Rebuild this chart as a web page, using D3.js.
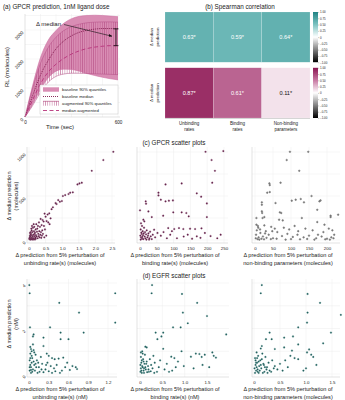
<!DOCTYPE html>
<html>
<head>
<meta charset="utf-8">
<script src="https://cdn.jsdelivr.net/npm/d3@7"></script>
<style>
  body { margin: 0; background: #fff; }
  svg { font-family: "Liberation Sans", Arial, sans-serif; }
</style>
</head>
<body>
<svg width="345" height="400"></svg>
<script>
// --- (a) GPCR time course, molecules of RL ---
const timeSec = [0, 50, 100, 150, 200, 250, 300, 350, 400, 450, 500, 550, 600]
const baselineLow = [0, 450, 950, 1350, 1580, 1650, 1640, 1580, 1500, 1430, 1370, 1320, 1280]
const baselineHigh = [0, 1100, 2050, 2650, 2980, 3230, 3390, 3470, 3500, 3510, 3500, 3480, 3460]
const baselineMedian = [0, 750, 1450, 1950, 2350, 2620, 2800, 2920, 2990, 3030, 3050, 3050, 3040]
const augmentedLow = [0, 400, 850, 1200, 1400, 1480, 1510, 1510, 1500, 1490, 1480, 1470, 1460]
const augmentedHigh = [0, 1000, 1850, 2400, 2750, 2980, 3120, 3200, 3250, 3270, 3280, 3280, 3270]
const augmentedMedian = [0, 600, 1150, 1550, 1820, 2020, 2170, 2280, 2360, 2410, 2440, 2460, 2460]
const timeTicks = [0, 600]
const rlTicks = [0, 1000, 2000, 3000]
const legendLabels = ['baseline 90% quantiles', 'baseline median', 'augmented 90% quantiles', 'median augmented']

// --- (b) Spearman correlation ---
const heatColumns = ['Unbinding rates', 'Binding rates', 'Non-binding parameters']
const gpcrRho = [0.63, 0.59, 0.64]
const egfrRho = [0.87, 0.61, 0.11]
const colorbarTicks = [1, 0.75, 0.5, 0.25, 0, -0.25, -0.5, -0.75, -1]

// --- (c) GPCR scatter: [delta from 5% perturbation, delta median] ---
const gpcrUnbinding = [[2.54,1003],[2.24,909],[1.89,787],[1.59,651],[1.52,643],[1.46,632],[1.32,542],[1.24,538],[1.19,523],[1.09,511],[1.02,500],[0.99,443],[0.93,435],[0.88,454],[0.83,409],[0.80,420],[0.72,372],[0.68,350],[0.61,303],[0.65,246],[0.56,290],[0.50,265],[0.47,300],[0.41,227],[0.44,210],[0.38,170],[0.53,215],[0.58,200],[0.62,180],[0.35,240],[0.30,200],[0.33,150],[0.27,160],[0.25,130],[0.22,180],[0.45,160],[0.48,120],[0.40,110],[0.36,90],[0.31,100],[0.28,70],[0.24,95],[0.20,120],[0.18,85],[0.15,100],[0.12,140],[0.10,90],[0.08,110],[0.06,70],[0.05,60],[0.04,40],[0.03,80],[0.02,30],[0.01,15],[0.07,25],[0.09,50],[0.11,35],[0.13,60],[0.14,20],[0.16,45],[0.17,70],[0.19,30],[0.21,55],[0.23,40],[0.26,20],[0.29,45],[0.32,30],[0.34,60],[0.37,25],[0.39,50],[0.42,70],[0.46,30],[0.52,50],[0.02,10],[0.04,5],[0.06,20],[0.08,8],[0.10,12],[0.12,5],[0.15,10],[0.18,6],[0.20,15],[0.03,50],[0.05,90],[0.07,130],[0.09,160],[0.14,180],[0.16,150]]
const gpcrBinding = [[195,1003],[248,1011],[213,909],[223,787],[215,651],[76,632],[124,643],[55,538],[169,530],[182,492],[199,416],[55,507],[62,458],[76,439],[86,447],[98,450],[17,439],[18,413],[0,337],[25,325],[35,261],[69,276],[99,314],[124,314],[138,307],[145,269],[199,261],[10,231],[13,212],[84,136],[102,125],[116,136],[129,125],[149,129],[164,125],[183,133],[193,80],[169,42],[142,61],[42,117],[52,80],[62,49],[32,42],[3,190],[6,160],[2,120],[8,100],[12,140],[15,90],[20,110],[5,70],[9,55],[14,40],[18,65],[22,30],[25,75],[28,20],[3,30],[6,15],[10,10],[1,50],[4,85],[16,20],[24,50],[30,95],[38,60],[45,30],[70,90],[90,60],[110,20],[130,40],[155,15],[180,25],[210,45],[230,20],[240,60],[2,5],[7,35],[11,75],[19,5],[27,5],[35,10],[80,20],[95,100]]
const gpcrNonBinding = [[97,1003],[148,1003],[88,909],[123,787],[40,643],[41,624],[71,651],[34,538],[41,545],[157,500],[102,447],[113,458],[127,466],[136,428],[19,428],[19,401],[57,420],[179,439],[182,450],[19,326],[20,307],[69,314],[73,307],[173,344],[210,276],[210,261],[231,288],[4,250],[21,250],[26,261],[67,231],[77,223],[130,250],[173,204],[193,174],[4,174],[8,160],[26,166],[45,150],[55,130],[80,140],[95,120],[110,160],[120,100],[140,130],[160,110],[175,60],[190,90],[205,130],[215,110],[220,60],[212,30],[200,15],[185,40],[170,20],[150,50],[135,30],[118,60],[105,35],[90,70],[75,45],[62,90],[50,20],[38,60],[30,100],[22,40],[15,80],[10,30],[5,110],[3,60],[2,20],[7,10],[12,5],[18,15],[25,8],[32,25],[44,10],[60,15],[85,5],[100,10],[125,8],[145,12],[165,5],[195,8],[208,5],[218,20],[9,140],[14,120],[28,75],[48,100]]

// --- (d) EGFR scatter, nM ---
const egfrUnbinding = [[0.005,3.91],[0.01,3.55],[0.46,3.13],[0.76,2.70],[1.31,3.55],[1.31,2.26],[0.015,2.05],[0.32,2.05],[0.07,1.74],[0.06,1.65],[0.48,1.82],[0.83,1.82],[0.22,1.60],[0.48,1.53],[0.60,1.53],[0.02,1.19],[0.03,1.10],[0.04,1.00],[0.22,1.23],[0.07,1.05],[0.27,0.90],[0.30,0.80],[0.35,0.70],[0.39,0.65],[0.45,0.68],[0.52,0.72],[0.58,0.50],[0.66,0.35],[0.71,0.30],[0.73,0.22],[0.62,0.18],[0.55,0.30],[0.50,0.15],[0.42,0.40],[0.38,0.25],[0.33,0.35],[0.28,0.50],[0.25,0.20],[0.20,0.45],[0.18,0.75],[0.15,0.30],[0.12,0.60],[0.10,0.85],[0.08,0.40],[0.06,0.20],[0.05,0.70],[0.04,0.50],[0.03,0.30],[0.02,0.90],[0.01,0.60],[0.01,0.15],[0.02,0.40],[0.03,0.05],[0.05,0.10],[0.07,0.55],[0.09,0.15],[0.11,0.30],[0.13,0.05],[0.16,0.10],[0.19,0.20],[0.22,0.08],[0.26,0.40],[0.30,0.12],[0.35,0.05],[0.40,0.12],[0.47,0.05],[0.01,0.30],[0.04,0.80],[0.06,1.30],[0.02,0.70],[0.08,0.95],[0.14,0.50],[0.03,0.18],[0.10,0.45]]
const egfrBinding = [[0.27,3.91],[0.26,3.55],[0.94,3.52],[1.28,3.13],[0.96,2.70],[1.50,2.55],[1.07,2.23],[1.93,1.74],[0.35,1.82],[0.52,1.82],[0.74,2.05],[0.91,2.05],[0.39,1.53],[0.48,1.65],[0.15,1.17],[0.12,1.20],[0.52,1.11],[0.93,1.00],[0.70,0.76],[0.77,0.70],[1.14,0.76],[1.25,0.90],[1.33,0.88],[1.38,0.75],[1.45,0.85],[1.62,0.95],[1.65,0.80],[1.70,0.72],[1.40,0.40],[1.55,0.30],[1.20,0.25],[0.98,0.35],[0.85,0.55],[0.80,0.30],[0.60,0.45],[0.55,0.20],[0.45,0.60],[0.42,0.30],[0.38,0.10],[0.33,0.50],[0.30,0.80],[0.28,0.25],[0.25,0.40],[0.22,0.65],[0.20,0.10],[0.18,0.35],[0.15,0.55],[0.13,0.20],[0.11,0.85],[0.10,0.45],[0.08,0.15],[0.07,0.65],[0.06,0.30],[0.05,1.00],[0.04,0.05],[0.03,0.50],[0.02,0.25],[0.02,0.75],[0.01,0.10],[0.01,0.40],[0.03,0.15],[0.05,0.35],[0.09,0.05],[0.12,0.30],[0.16,0.08],[0.24,0.12],[0.32,0.05],[0.04,0.60],[0.06,0.90],[0.09,0.25],[0.14,0.45],[0.19,0.20],[0.02,0.95],[0.08,0.55],[0.65,0.10],[0.72,0.15]]
const egfrNonBinding = [[0.15,3.91],[0.13,3.55],[1.03,3.52],[1.27,3.13],[1.03,2.70],[1.02,2.26],[1.67,2.60],[0.85,2.05],[0.30,1.82],[0.34,1.53],[0.23,1.53],[0.58,1.60],[0.75,1.65],[0.85,1.30],[0.15,1.23],[0.13,1.12],[0.58,1.17],[1.06,1.08],[1.02,0.95],[1.10,0.85],[1.14,0.75],[1.33,1.35],[1.48,1.82],[0.73,1.03],[0.40,1.10],[0.70,0.80],[0.78,0.70],[0.85,0.65],[0.60,0.60],[1.00,0.25],[0.95,0.15],[1.20,0.40],[0.50,0.45],[0.45,0.20],[0.40,0.35],[0.35,0.60],[0.30,0.15],[0.28,0.50],[0.25,0.30],[0.22,0.75],[0.20,0.10],[0.18,0.45],[0.16,0.90],[0.14,0.25],[0.12,0.60],[0.10,0.35],[0.09,0.05],[0.08,0.80],[0.07,0.20],[0.06,0.50],[0.05,0.95],[0.04,0.15],[0.03,0.40],[0.02,0.70],[0.02,0.05],[0.01,0.25],[0.03,0.60],[0.05,0.30],[0.07,0.10],[0.11,0.15],[0.13,0.40],[0.17,0.05],[0.21,0.30],[0.26,0.05],[0.33,0.10],[0.38,0.25],[0.55,0.15],[0.65,0.30],[0.04,0.50],[0.06,0.70],[0.09,0.55],[0.15,0.65],[0.19,0.40],[0.24,0.20]]

const gpcrYTicks = [0, 500, 1000]
const egfrYTicks = [0, 2, 4]

const svg = d3.select('svg')
const defs = svg.append('defs')

const GRID = '#ececec'
const AXIS = '#c4c4c4'
const TXT = '#222'

function title(text, x, y, anchor) {
  svg.append('text')
    .attr('x', x).attr('y', y)
    .attr('text-anchor', anchor || 'middle')
    .attr('font-size', 6.3)
    .attr('fill', TXT)
    .text(text)
}

// ---------------- panel (a) ----------------
title('(a) GPCR prediction, 1nM ligand dose', 3, 9, 'start')

const ta = d3.scaleLinear().domain([0, 600]).range([25, 118])
const ya = d3.scaleLinear().domain([0, 3000]).range([117, 30])
const pa = svg.append('g')

pa.selectAll('.gv').data(d3.range(100, 601, 100)).join('line')
  .attr('x1', d => ta(d)).attr('x2', d => ta(d)).attr('y1', 14).attr('y2', 117)
  .attr('stroke', GRID).attr('stroke-width', 0.5)
pa.selectAll('.gh').data(d3.range(500, 3501, 500)).join('line')
  .attr('x1', 25).attr('x2', 120).attr('y1', d => ya(d)).attr('y2', d => ya(d))
  .attr('stroke', GRID).attr('stroke-width', 0.5)

defs.append('pattern')
  .attr('id', 'hatch').attr('patternUnits', 'userSpaceOnUse')
  .attr('width', 2.2).attr('height', 10)
  .append('rect').attr('x', 0.8).attr('width', 0.55).attr('height', 10)
  .attr('fill', '#b0457f').attr('fill-opacity', 0.75)

const series = timeSec.map((t, i) => ({
  t,
  bl: baselineLow[i], bh: baselineHigh[i], bm: baselineMedian[i],
  al: augmentedLow[i], ah: augmentedHigh[i], am: augmentedMedian[i],
}))

const band = (lo, hi) => d3.area().curve(d3.curveMonotoneX)
  .x(d => ta(d.t)).y0(d => ya(d[lo])).y1(d => ya(d[hi]))
const curve = key => d3.line().curve(d3.curveMonotoneX)
  .x(d => ta(d.t)).y(d => ya(d[key]))

pa.append('path').datum(series).attr('d', band('bl', 'bh')).attr('fill', '#d98db4')
pa.append('path').datum(series).attr('d', band('al', 'ah')).attr('fill', 'url(#hatch)')
;['bl', 'bh'].forEach(k => pa.append('path').datum(series).attr('d', curve(k))
  .attr('fill', 'none').attr('stroke', '#cc72a2').attr('stroke-width', 0.6))
;['al', 'ah'].forEach(k => pa.append('path').datum(series).attr('d', curve(k))
  .attr('fill', 'none').attr('stroke', '#b24c84').attr('stroke-width', 0.5))
pa.append('path').datum(series).attr('d', curve('bm'))
  .attr('fill', 'none').attr('stroke', '#7d1749').attr('stroke-width', 0.9).attr('stroke-dasharray', '1,1')
pa.append('path').datum(series).attr('d', curve('am'))
  .attr('fill', 'none').attr('stroke', '#b7337a').attr('stroke-width', 0.9).attr('stroke-dasharray', '4,2.5')

pa.append('line').attr('x1', 25).attr('x2', 25).attr('y1', 14).attr('y2', 117).attr('stroke', AXIS).attr('stroke-width', 0.5)
pa.append('line').attr('x1', 25).attr('x2', 120).attr('y1', 117).attr('y2', 117).attr('stroke', AXIS).attr('stroke-width', 0.5)

const axA = pa.append('g').attr('transform', 'translate(0,117)')
  .call(d3.axisBottom(ta).tickValues(timeTicks).tickSize(0).tickPadding(4))
axA.select('.domain').remove()
axA.selectAll('text').attr('font-size', 4.6).attr('fill', TXT).attr('font-family', null)

const ayA = pa.append('g').attr('transform', 'translate(25,0)')
  .call(d3.axisLeft(ya).tickValues(rlTicks).tickFormat(d3.format('d')).tickSize(0).tickPadding(2.5))
ayA.select('.domain').remove()
ayA.selectAll('text').attr('font-size', 4.6).attr('fill', TXT).attr('font-family', null)
  .attr('transform', 'rotate(-45)').attr('dy', '0.2em')

pa.append('text').attr('x', 60).attr('y', 129).attr('text-anchor', 'middle')
  .attr('font-size', 6).attr('fill', TXT).text('Time (sec)')
pa.append('text').attr('transform', 'translate(9,67) rotate(-90)').attr('text-anchor', 'middle')
  .attr('font-size', 6).attr('fill', TXT).text('RL (molecules)')

// delta-median bracket between the two medians at the final time point
const last = series[series.length - 1]
const bx = ta(last.t) - 2
pa.append('line').attr('x1', bx).attr('x2', bx).attr('y1', ya(last.bm)).attr('y2', ya(last.am))
  .attr('stroke', '#111').attr('stroke-width', 0.8)
;[last.bm, last.am].forEach(v => pa.append('line')
  .attr('x1', bx - 2.5).attr('x2', bx + 2.5).attr('y1', ya(v)).attr('y2', ya(v))
  .attr('stroke', '#111').attr('stroke-width', 0.8))

defs.append('marker').attr('id', 'arrow').attr('viewBox', '0 0 10 10')
  .attr('refX', 9).attr('refY', 5).attr('markerWidth', 6).attr('markerHeight', 6)
  .attr('orient', 'auto-start-reverse')
  .append('path').attr('d', 'M0,1 L10,5 L0,9 z').attr('fill', '#111')
pa.append('text').attr('x', 36).attr('y', 26).attr('font-size', 6).attr('fill', TXT).text('Δ median')
pa.append('line').attr('x1', 64).attr('y1', 24.5).attr('x2', bx - 4).attr('y2', ya((last.bm + last.am) / 2) - 1)
  .attr('stroke', '#111').attr('stroke-width', 0.6).attr('marker-end', 'url(#arrow)')

// legend
const lg = pa.append('g').attr('transform', 'translate(40,85)')
lg.append('rect').attr('width', 78).attr('height', 29).attr('fill', '#fff').attr('fill-opacity', 0.92)
  .attr('stroke', '#c8c8c8').attr('stroke-width', 0.5)
const rowY = i => 4.5 + i * 7
lg.append('rect').attr('x', 3).attr('y', rowY(0) - 2.2).attr('width', 16).attr('height', 4.4).attr('fill', '#d98db4')
lg.append('line').attr('x1', 3).attr('x2', 19).attr('y1', rowY(1)).attr('y2', rowY(1))
  .attr('stroke', '#7d1749').attr('stroke-width', 0.9).attr('stroke-dasharray', '1,1')
lg.append('rect').attr('x', 3).attr('y', rowY(2) - 2.2).attr('width', 16).attr('height', 4.4).attr('fill', 'url(#hatch)')
lg.append('line').attr('x1', 3).attr('x2', 19).attr('y1', rowY(2) - 2.2).attr('y2', rowY(2) - 2.2)
  .attr('stroke', '#a8336f').attr('stroke-width', 0.6)
lg.append('line').attr('x1', 3).attr('x2', 19).attr('y1', rowY(3)).attr('y2', rowY(3))
  .attr('stroke', '#b7337a').attr('stroke-width', 0.9).attr('stroke-dasharray', '4,2.5')
lg.selectAll('.lt').data(legendLabels).join('text')
  .attr('x', 22).attr('y', (d, i) => rowY(i) + 1.5)
  .attr('font-size', 4.3).attr('fill', TXT).text(d => d)

// ---------------- panel (b) ----------------
title('(b) Spearman correlation', 240, 9)

const hx = d3.scaleBand().domain(heatColumns).range([165, 310])
const hy = d3.scaleBand().domain(['gpcr', 'egfr']).range([12, 118]).paddingInner(0.1)
const tealScale = d3.scaleLinear().domain([-1, 0, 0.5, 1]).range(['#000', '#fff', '#7cc3c1', '#208383'])
const plumScale = d3.scaleLinear().domain([-1, 0, 0.5, 1]).range(['#000', '#fff', '#c87aa3', '#8a1450'])
const heatRows = [
  { key: 'gpcr', values: gpcrRho, color: tealScale },
  { key: 'egfr', values: egfrRho, color: plumScale },
]

const pb = svg.append('g')
heatRows.forEach(row => {
  const cells = pb.append('g').selectAll('g').data(heatColumns.map((c, i) => ({ c, v: row.values[i] }))).join('g')
  cells.append('rect')
    .attr('x', d => hx(d.c)).attr('y', hy(row.key))
    .attr('width', hx.bandwidth()).attr('height', hy.bandwidth())
    .attr('fill', d => row.color(d.v)).attr('stroke', '#fff').attr('stroke-width', 0.3).attr('stroke-opacity', 0.5)
  cells.append('text')
    .attr('x', d => hx(d.c) + hx.bandwidth() / 2).attr('y', hy(row.key) + hy.bandwidth() / 2 + 2)
    .attr('text-anchor', 'middle').attr('font-size', 5.6)
    .attr('fill', d => d.v > 0.3 ? '#fff' : '#111')
    .text(d => d3.format('.2f')(d.v) + '*')

  // row label
  const cy = hy(row.key) + hy.bandwidth() / 2
  pb.append('text').attr('transform', `translate(153,${cy}) rotate(-90)`).attr('text-anchor', 'middle')
    .attr('font-size', 4.4).attr('fill', TXT).text('Δ median')
  pb.append('text').attr('transform', `translate(159,${cy}) rotate(-90)`).attr('text-anchor', 'middle')
    .attr('font-size', 4.4).attr('fill', TXT).text('prediction')

  // colour bar
  const gid = 'cb-' + row.key
  const grad = defs.append('linearGradient').attr('id', gid)
    .attr('x1', 0).attr('x2', 0).attr('y1', 1).attr('y2', 0)
  d3.range(-1, 1.001, 0.125).forEach(v => grad.append('stop')
    .attr('offset', (v + 1) / 2).attr('stop-color', row.color(v)))
  const top = hy(row.key), bot = top + hy.bandwidth()
  pb.append('rect').attr('x', 313).attr('y', top).attr('width', 5).attr('height', bot - top)
    .attr('fill', `url(#${gid})`)
  const cs = d3.scaleLinear().domain([-1, 1]).range([bot, top])
  const cax = pb.append('g').attr('transform', 'translate(318,0)')
    .call(d3.axisRight(cs).tickValues(colorbarTicks).tickSize(1.2).tickPadding(0.8)
      .tickFormat(d => d === 0 ? '0' : d3.format('.2f')(d)))
  cax.select('.domain').remove()
  cax.selectAll('line').attr('stroke', '#555').attr('stroke-width', 0.3)
  cax.selectAll('text').attr('font-size', 2.9).attr('fill', TXT).attr('font-family', null)
})

pb.append('line').attr('x1', 165).attr('x2', 310).attr('y1', 118.5).attr('y2', 118.5)
  .attr('stroke', '#aaa').attr('stroke-width', 0.5)
heatColumns.forEach(c => {
  const cut = c.lastIndexOf(' ')
  const lines = [c.slice(0, cut), c.slice(cut + 1)]
  lines.forEach((l, i) => pb.append('text')
    .attr('x', hx(c) + hx.bandwidth() / 2).attr('y', 125 + i * 5.6)
    .attr('text-anchor', 'middle').attr('font-size', 4.5).attr('fill', TXT).text(l))
})

// ---------------- panels (c) and (d) ----------------
function scatter(cfg) {
  const g = svg.append('g')
  const x = d3.scaleLinear().domain(cfg.xDomain).range(cfg.xRange)
  const y = d3.scaleLinear().domain(cfg.yDomain).range(cfg.yRange)
  const [fx0, fx1] = cfg.frameX
  const [fy0, fy1] = cfg.frameY

  g.selectAll('.gv').data(cfg.xTicks).join('line')
    .attr('x1', d => x(d)).attr('x2', d => x(d)).attr('y1', fy0).attr('y2', fy1)
    .attr('stroke', GRID).attr('stroke-width', 0.5)
  g.selectAll('.gh').data(cfg.yGrid).join('line')
    .attr('x1', fx0).attr('x2', fx1).attr('y1', d => y(d)).attr('y2', d => y(d))
    .attr('stroke', GRID).attr('stroke-width', 0.5)
  g.append('line').attr('x1', fx0).attr('x2', fx0).attr('y1', fy0).attr('y2', fy1).attr('stroke', AXIS).attr('stroke-width', 0.5)
  g.append('line').attr('x1', fx0).attr('x2', fx1).attr('y1', fy1).attr('y2', fy1).attr('stroke', AXIS).attr('stroke-width', 0.5)

  const ax = g.append('g').attr('transform', `translate(0,${fy1})`)
    .call(d3.axisBottom(x).tickValues(cfg.xTicks).tickFormat(cfg.xFormat).tickSize(0).tickPadding(3.5))
  ax.select('.domain').remove()
  ax.selectAll('text').attr('font-size', 4.4).attr('fill', TXT).attr('font-family', null)

  if (cfg.showY) {
    const ay = g.append('g').attr('transform', `translate(${fx0},0)`)
      .call(d3.axisLeft(y).tickValues(cfg.yTicks).tickFormat(d3.format('d')).tickSize(0).tickPadding(2.5))
    ay.select('.domain').remove()
    ay.selectAll('text').attr('font-size', 4.4).attr('fill', TXT).attr('font-family', null)
      .attr('transform', 'rotate(-45)').attr('dy', '0.2em')
    cfg.yLabel.forEach((l, i) => g.append('text')
      .attr('transform', `translate(${11 + i * 6.5},${cfg.yLabelY}) rotate(-90)`)
      .attr('text-anchor', 'middle').attr('font-size', 5.6).attr('fill', TXT).text(l))
  }

  cfg.xLabel.forEach((l, i) => g.append('text')
    .attr('x', cfg.xLabelX).attr('y', fy1 + 14 + i * 7.5)
    .attr('text-anchor', 'middle').attr('font-size', 5.6).attr('fill', TXT).text(l))

  g.selectAll('circle').data(cfg.points).join('circle')
    .attr('cx', d => x(d[0])).attr('cy', d => y(d[1])).attr('r', 0.85)
    .attr('fill', cfg.fill).attr('stroke', cfg.stroke).attr('stroke-width', 0.3)
}

const fmt1 = d => d === 0 ? '0' : d3.format('.1f')(d)
const gpcrRow = {
  yDomain: [0, 1000], yRange: [240, 152], frameY: [147, 243],
  yTicks: gpcrYTicks, yGrid: [0, 250, 500, 750, 1000],
  yLabel: ['Δ median prediction', '(molecules)'], yLabelY: 196,
}
const egfrRow = {
  yDomain: [0, 4], yRange: [374, 283], frameY: [279, 377],
  yTicks: egfrYTicks, yGrid: [0, 1, 2, 3, 4],
  yLabel: ['Δ median prediction', '(nM)'], yLabelY: 324,
}

title('(c) GPCR scatter plots', 174, 145)
title('(d) EGFR scatter plots', 174, 278)

scatter({ ...gpcrRow, points: gpcrUnbinding, showY: true,
  xDomain: [0, 2.5], xRange: [29, 112], frameX: [27, 115], xTicks: [0, 0.5, 1, 1.5, 2, 2.5], xFormat: fmt1,
  xLabel: ['Δ prediction from 5% perturbation of', 'unbinding rate(s) (molecules)'], xLabelX: 60,
  fill: '#5e1f47', stroke: '#8a4a70' })
scatter({ ...gpcrRow, points: gpcrBinding,
  xDomain: [0, 250], xRange: [140, 224], frameX: [137, 228], xTicks: [0, 50, 100, 150, 200, 250], xFormat: d3.format('d'),
  xLabel: ['Δ prediction from 5% perturbation of', 'binding rate(s) (molecules)'], xLabelX: 175,
  fill: '#5e1f47', stroke: '#8a4a70' })
scatter({ ...gpcrRow, points: gpcrNonBinding,
  xDomain: [0, 200], xRange: [255, 327], frameX: [252, 340], xTicks: [0, 50, 100, 150, 200], xFormat: d3.format('d'),
  xLabel: ['Δ prediction from 5% perturbation of', 'non-binding parameters (molecules)'], xLabelX: 288,
  fill: '#8a8a8a', stroke: '#3e3e3e' })

scatter({ ...egfrRow, points: egfrUnbinding, showY: true,
  xDomain: [0, 1.2], xRange: [29, 108], frameX: [27, 117], xTicks: [0, 0.3, 0.6, 0.9, 1.2], xFormat: fmt1,
  xLabel: ['Δ prediction from 5% perturbation of', 'unbinding rate(s) (nM)'], xLabelX: 60,
  fill: '#1d5a58', stroke: '#4f8b88' })
scatter({ ...egfrRow, points: egfrBinding,
  xDomain: [0, 1.5], xRange: [140, 207], frameX: [137, 229], xTicks: [0, 0.5, 1, 1.5], xFormat: fmt1,
  xLabel: ['Δ prediction from 5% perturbation of', 'binding rate(s) (nM)'], xLabelX: 175,
  fill: '#1d5a58', stroke: '#4f8b88' })
scatter({ ...egfrRow, points: egfrNonBinding,
  xDomain: [0, 1.5], xRange: [254, 332], frameX: [252, 340], xTicks: [0, 0.5, 1, 1.5], xFormat: fmt1,
  xLabel: ['Δ prediction from 5% perturbation of', 'non-binding parameters (molecules)'], xLabelX: 288,
  fill: '#1d5a58', stroke: '#4f8b88' })
</script>
</body>
</html>
